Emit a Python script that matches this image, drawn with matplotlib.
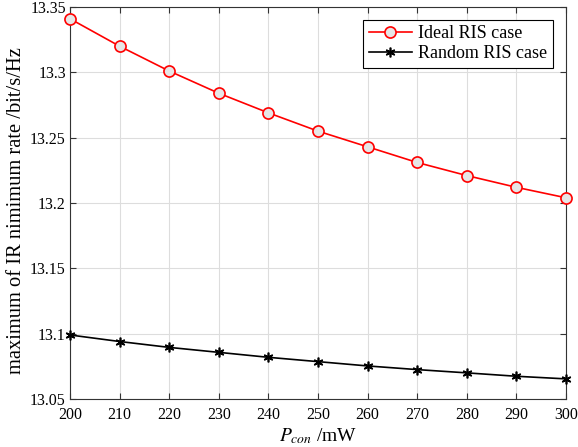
import matplotlib
matplotlib.use("Agg")
import matplotlib.pyplot as plt

p_con = [200, 210, 220, 230, 240, 250, 260, 270, 280, 290, 300]
ideal = [13.341, 13.320, 13.301, 13.284, 13.269, 13.255, 13.243, 13.231, 13.221, 13.212, 13.204]
random_ris = [13.099, 13.094, 13.0895, 13.0857, 13.0819, 13.0786, 13.0753, 13.0725, 13.070, 13.0674, 13.0654]
xticks = [200, 210, 220, 230, 240, 250, 260, 270, 280, 290, 300]
yticks = [13.05, 13.1, 13.15, 13.2, 13.25, 13.3, 13.35]
ytick_labels = ["13.05", "13.1", "13.15", "13.2", "13.25", "13.3", "13.35"]

plt.rcParams['font.family'] = ['Liberation Serif', 'DejaVu Serif']
plt.rcParams['mathtext.fontset'] = 'stix'

fig = plt.figure(figsize=(5.78, 4.47), dpi=100)
ax = fig.add_axes([70/578, 1-399/447, 496/578, 392/447])

ax.plot(p_con, ideal, color='red', lw=1.2, marker='o', markersize=8,
        markerfacecolor='#e6e6e6', markeredgecolor='red', markeredgewidth=1.2,
        label='Ideal RIS case', clip_on=False, zorder=3)
ax.plot(p_con, random_ris, color='black', lw=1.2, marker=(6, 2, 0), markersize=7,
        markeredgewidth=1.2, label='Random RIS case', clip_on=False, zorder=3)

ax.set_xlim(200, 300)
ax.set_ylim(13.05, 13.35)
ax.set_xticks(xticks)
ax.set_yticks(yticks)
ax.set_yticklabels(ytick_labels)
ax.grid(True, color='#dddddd', lw=0.8)
ax.set_axisbelow(True)
ax.tick_params(direction='in', top=True, right=True, labelsize=11.5, length=4,
               color='#333333')
ax.tick_params(axis='x', pad=6)
ax.tick_params(axis='y', pad=3)
for s in ax.spines.values():
    s.set_color('#333333')
    s.set_linewidth(0.8)

ax.set_xlabel(r'$P_{con}$ /mW', fontsize=14, labelpad=2)
ax.set_ylabel('maximum of IR nimimum rate /bit/s/Hz', fontsize=14.8)
ax.yaxis.set_label_coords(-0.0887, 0.48)

leg = ax.legend(loc='upper right', fontsize=13, fancybox=False, framealpha=1,
                edgecolor='black', borderpad=0.3, handlelength=2.4, labelspacing=0.15,
                handletextpad=0.35, bbox_to_anchor=(553/578, 1-20/447),
                bbox_transform=fig.transFigure, borderaxespad=0)
leg.get_frame().set_linewidth(0.8)

fig.savefig('out.png', dpi=100)
